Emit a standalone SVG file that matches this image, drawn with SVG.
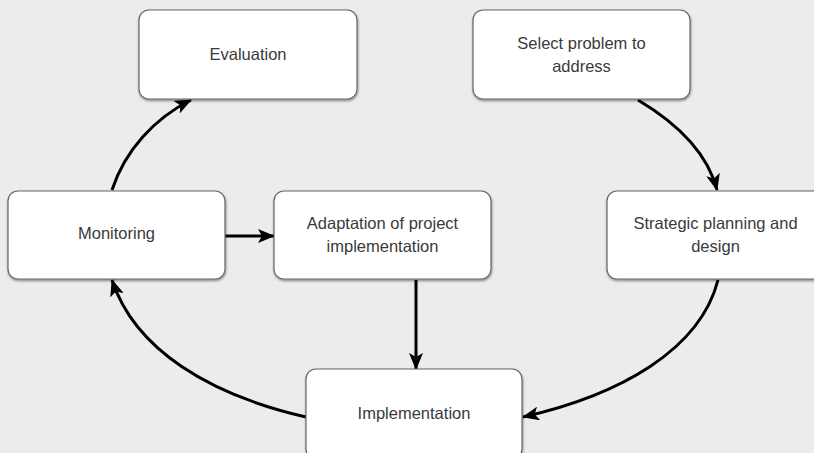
<svg xmlns="http://www.w3.org/2000/svg" width="814" height="453" viewBox="0 0 814 453">
<style>
.box{fill:#fff;stroke:#666;stroke-width:1.2;filter:url(#sh)}
.t{font-family:"Liberation Sans",Arial,sans-serif;font-size:16.5px;fill:#3a3a3a;text-anchor:middle}
.c{fill:none;stroke:#000;stroke-width:3;marker-end:url(#ah)}
</style>
<defs>
<filter id="sh" x="-10%" y="-10%" width="120%" height="130%">
<feDropShadow dx="0.5" dy="1.5" stdDeviation="1" flood-color="#000" flood-opacity="0.45"/>
</filter>
<marker id="ah" markerWidth="18" markerHeight="14" refX="16" refY="7" orient="auto" markerUnits="userSpaceOnUse">
<path d="M0,0 L17,7 L0,14 L4,7 Z" fill="#000"/>
</marker>
</defs>
<rect width="814" height="453" fill="#ececec"/>
<g id="connectors">
<path class="c" d="M112,190 C125,150 155,118 191,100"/>
<path class="c" d="M638,100 C680,125 708,155 717,190"/>
<path class="c" d="M718,280 C700,350 620,395 523,417"/>
<path class="c" d="M306,417 C210,395 135,350 112,280"/>
<path class="c" d="M225,236 L274,236"/>
<path class="c" d="M416,280 L416,369"/>
</g>
<g id="evaluation"><rect class="box" x="139" y="10" width="218" height="89" rx="10"/><text class="t" x="248" y="60">Evaluation</text></g>
<g id="select"><rect class="box" x="473" y="10" width="217" height="89" rx="10"/><text class="t" x="581.5" y="49">Select problem to</text><text class="t" x="581.5" y="72">address</text></g>
<g id="monitoring"><rect class="box" x="8" y="191" width="217" height="88" rx="10"/><text class="t" x="116.5" y="239">Monitoring</text></g>
<g id="adaptation"><rect class="box" x="274" y="191" width="217" height="88" rx="10"/><text class="t" x="382.5" y="229">Adaptation of project</text><text class="t" x="382.5" y="252">implementation</text></g>
<g id="strategic"><rect class="box" x="607" y="191" width="217" height="88" rx="10"/><text class="t" x="715.5" y="229">Strategic planning and</text><text class="t" x="715.5" y="252">design</text></g>
<g id="implementation"><rect class="box" x="306" y="369" width="216" height="90" rx="10"/><text class="t" x="414" y="419">Implementation</text></g>
</svg>
